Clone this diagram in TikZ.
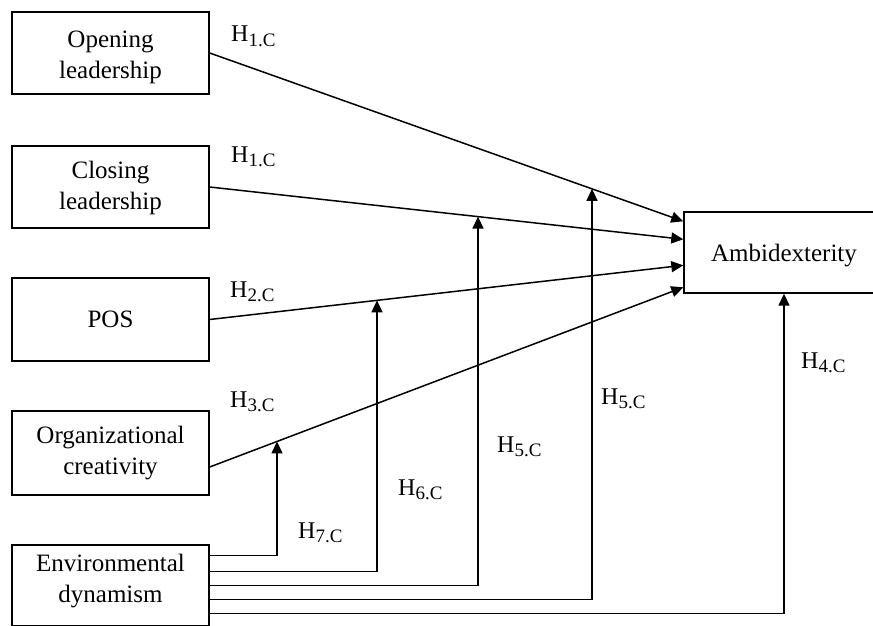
\documentclass[tikz,border=0pt]{standalone}
\usepackage{fontspec}
\setmainfont{Liberation Serif}
\usetikzlibrary{arrows.meta,calc,intersections}

% hypothesis label: H with a lowered, smaller index
\newcommand{\hyplab}[1]{H\raisebox{-4.5pt}{\fontsize{19}{19}\selectfont #1}}

\begin{document}
\begin{tikzpicture}[x=1pt,y=-1pt,
  varbox/.style={draw,line width=1.4pt,inner sep=0pt,minimum width=197pt,
    align=center,font=\fontsize{25}{31}\selectfont},
  link/.style={line width=1.5pt,-{Triangle[length=12pt,width=11pt]}},
  hyp/.style={anchor=base west,inner sep=0pt,font=\fontsize{24}{28}\selectfont}]

\clip (0,0) rectangle (873,626);
\useasboundingbox (0,0) rectangle (873,626);

% predictor boxes
\node[varbox,minimum height=82pt] (open) at (110.5,53)  {\rule{0pt}{25pt}Opening\\leadership};
\node[varbox,minimum height=82pt] (close) at (110.5,187) {\rule{0pt}{20pt}Closing\\leadership};
\node[varbox,minimum height=83pt] (pos) at (110.5,319.5) {POS};
\node[varbox,minimum height=84pt] (org) at (110.5,453)  {Organizational\\creativity};
\node[varbox,minimum height=81pt] (env) at (110.5,585.5) {Environmental\\dynamism\rule[-14pt]{0pt}{14pt}};

% outcome box
\node[varbox,minimum width=200pt,minimum height=81pt] (amb) at (784,252.5) {\rule{0pt}{24pt}Ambidexterity};

% entry points on the outcome box
\coordinate (in1) at ($(amb.north west)+(0,10)$);
\coordinate (in2) at ($(amb.north west)+(0,28)$);
\coordinate (in3) at ($(amb.north west)+(0,54)$);
\coordinate (in4) at ($(amb.north west)+(0,76)$);
\coordinate (orgout) at ($(org.east)+(0,14)$);

% direct effects
\draw[link,name path=l1] (open.east) -- (in1);
\draw[link,name path=l2] (close.east) -- (in2);
\draw[link,name path=l3] (pos.east) -- (in3);
\draw[link,name path=l4] (orgout) -- (in4);

% exits of the moderator
\coordinate (e1) at ($(env.east)+(0,-30)$);
\coordinate (e2) at ($(env.east)+(0,-14)$);
\coordinate (e3) at ($(env.east)+(0,0)$);
\coordinate (e4) at ($(env.east)+(0,14)$);
\coordinate (e5) at ($(env.east)+(0,28)$);

% moderation points on the direct paths
\path[name path=v1] (277,100) -- (277,626);
\path[name path=v2] (377,100) -- (377,626);
\path[name path=v3] (478,100) -- (478,626);
\path[name path=v4] (592,100) -- (592,626);
\path[name intersections={of=l4 and v1,by=m1}];
\path[name intersections={of=l3 and v2,by=m2}];
\path[name intersections={of=l2 and v3,by=m3}];
\path[name intersections={of=l1 and v4,by=m4}];

\draw[link] (e1) -| (m1);
\draw[link] (e2) -| (m2);
\draw[link] (e3) -| (m3);
\draw[link] (e4) -| (m4);
\draw[link] (e5) -| (amb.south);

% hypothesis labels
\node[hyp] (h1a) at (231,42)  {\hyplab{1.C}};
\node[hyp] (h1b) at (231,162) {\hyplab{1.C}};
\node[hyp] (h2)  at (230,297) {\hyplab{2.C}};
\node[hyp] (h3)  at (230,407) {\hyplab{3.C}};
\node[hyp] (h7)  at (298,538) {\hyplab{7.C}};
\node[hyp] (h6)  at (398,495) {\hyplab{6.C}};
\node[hyp] (h5a) at (497,452) {\hyplab{5.C}};
\node[hyp] (h5b) at (601,404) {\hyplab{5.C}};
\node[hyp] (h4)  at (801,368) {\hyplab{4.C}};
\end{tikzpicture}
\end{document}
